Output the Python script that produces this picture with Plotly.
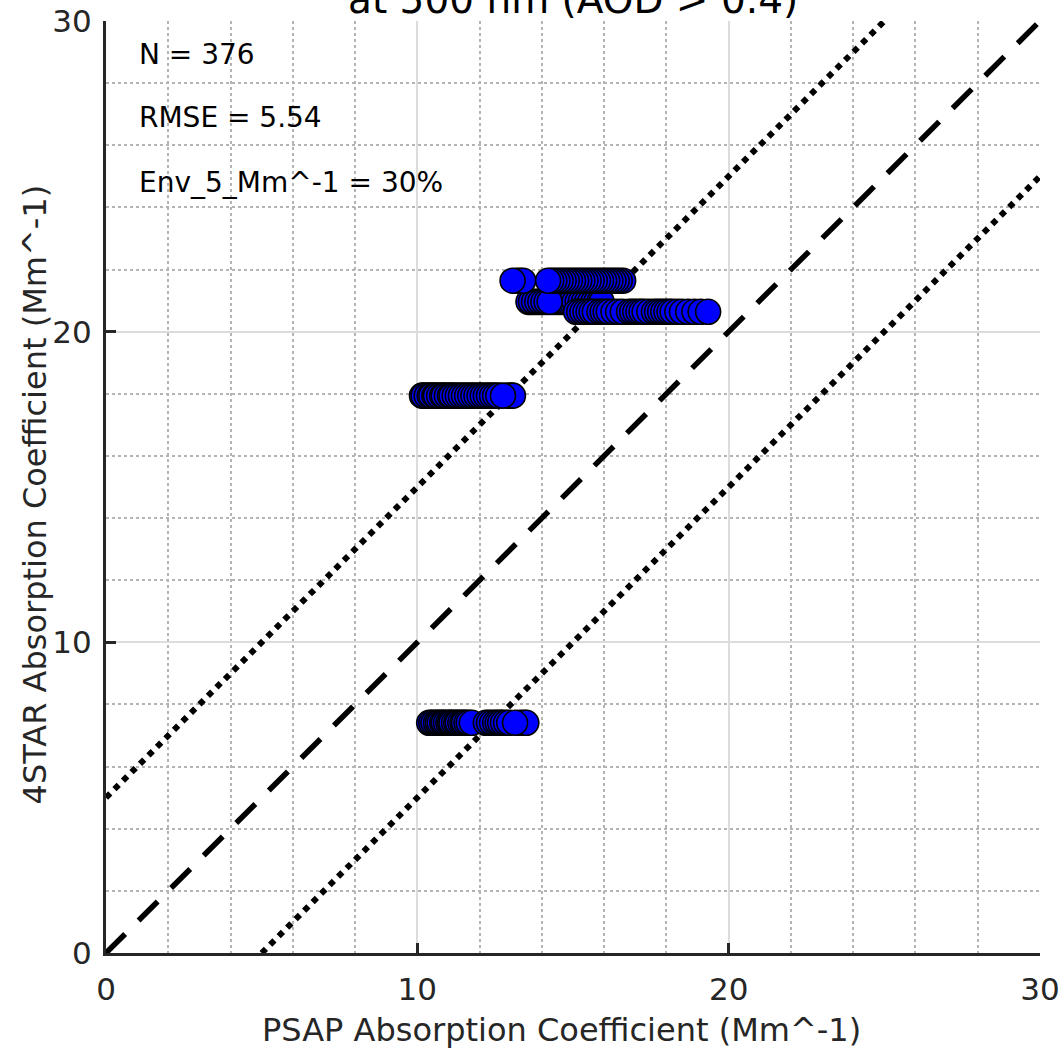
import plotly.graph_objects as go

# 4STAR retrieved absorption at each PSAP sample, grouped by 4STAR level
# (each group listed in plotting order)
star_lo = 7.41
psap_lo = [10.38, 10.45, 10.52, 10.60, 10.66, 10.72, 10.80, 10.85, 10.92, 11.00,
           11.05, 11.10, 11.18, 11.25, 11.30, 11.38, 11.45, 11.50, 11.58, 11.65,
           11.75, 12.20, 12.30, 12.40, 12.50, 12.58, 12.66, 12.75, 12.85, 12.95,
           13.30, 13.42, 13.50, 13.14]

star_mid = 17.94
psap_mid = [10.15, 10.20, 10.30, 10.40, 10.45, 10.55, 10.60, 10.70, 10.80, 10.85,
            10.95, 11.05, 11.10, 11.20, 11.30, 11.40, 11.50, 11.60, 11.70, 11.80,
            11.90, 12.00, 12.10, 12.20, 12.30, 12.40, 12.50, 12.60, 12.90, 13.00,
            13.07, 12.75]

star_b = 20.96
psap_b = [13.57, 13.65, 13.75, 13.85, 13.95, 14.05, 14.15, 14.35, 14.45, 14.55,
          14.65, 14.75, 14.85, 14.95, 15.05, 15.15, 15.25, 15.35, 15.45, 15.55,
          15.65, 15.75, 15.85, 15.92, 14.25]

star_a = 21.64
psap_a = [13.20, 13.30, 13.40, 13.06,
          16.61, 16.50, 16.40, 16.30, 16.20, 16.10, 16.00, 15.90, 15.80, 15.70,
          15.60, 15.50, 15.40, 15.30, 15.20, 15.10, 15.00, 14.90, 14.80, 14.70,
          14.60, 14.50, 14.40, 14.30, 14.20]

star_c = 20.64
psap_c = [15.10, 15.20, 15.30, 15.40, 15.50, 15.60, 15.70, 15.85, 15.95, 16.05,
          16.15, 16.30, 16.45, 16.60, 16.80, 16.90, 17.00, 17.10, 17.20, 17.30,
          17.45, 17.60, 17.70, 17.80, 17.90, 18.00, 18.10, 18.20, 18.35, 18.50,
          18.70, 18.90, 19.10, 19.34]

groups = [(psap_lo, star_lo), (psap_mid, star_mid), (psap_b, star_b),
          (psap_a, star_a), (psap_c, star_c)]

psap_all = [x for xs, _ in groups for x in xs]
star_all = [y for xs, y in groups for _ in xs]

# reference lines: 1:1 and +/- 5 Mm^-1 envelope
one_to_one = [0, 30]
env_offset = 5

stats_text = ["N = 376", "RMSE = 5.54", "Env_5_Mm^-1 = 30%"]
stats_y = [28.93, 26.9, 24.8]

axis_ticks = [0, 10, 20, 30]
axis_range = [0, 30]

FONT = "DejaVu Sans"
INK = "#262626"

fig = go.Figure()

fig.add_trace(go.Scatter(
    x=one_to_one, y=one_to_one, mode="lines",
    line=dict(color="black", width=5.5, dash="27px,19px"),
    hoverinfo="skip"))
fig.add_trace(go.Scatter(
    x=[one_to_one[0], one_to_one[1] - env_offset],
    y=[one_to_one[0] + env_offset, one_to_one[1]], mode="lines",
    line=dict(color="black", width=6, dash="6px,6px"),
    hoverinfo="skip"))
fig.add_trace(go.Scatter(
    x=[one_to_one[0] + env_offset, one_to_one[1]],
    y=[one_to_one[0], one_to_one[1] - env_offset], mode="lines",
    line=dict(color="black", width=6, dash="6px,6px"),
    hoverinfo="skip"))

fig.add_trace(go.Scatter(
    x=psap_all, y=star_all, mode="markers",
    marker=dict(size=25, color="#0000ff",
                line=dict(color="#000000", width=1.6)),
    cliponaxis=False))

for txt, yv in zip(stats_text, stats_y):
    fig.add_annotation(x=1.0, y=yv, xref="x", yref="y", text=txt,
                       showarrow=False, xanchor="left", yanchor="middle",
                       font=dict(family=FONT, size=28, color="black"))

# title (second line, sitting right above the axes)
fig.add_annotation(x=0.5, y=1, xref="paper", yref="paper",
                   text="at 500 nm (AOD > 0.4)", showarrow=False,
                   xanchor="center", yanchor="bottom", yshift=-3,
                   font=dict(family=FONT, size=39, color="black"))

# axis titles
fig.add_annotation(x=0.488, y=-0.0826, xref="paper", yref="paper",
                   text="PSAP Absorption Coefficient (Mm^-1)", showarrow=False,
                   xanchor="center", yanchor="middle",
                   font=dict(family=FONT, size=32, color=INK))
fig.add_annotation(x=-0.076, y=0.492, xref="paper", yref="paper",
                   text="4STAR Absorption Coefficient (Mm^-1)", showarrow=False,
                   xanchor="center", yanchor="middle", textangle=-90,
                   font=dict(family=FONT, size=32, color=INK))

axis_common = dict(
    range=axis_range, tickmode="array", tickvals=axis_ticks,
    ticks="inside", ticklen=10, tickwidth=3, tickcolor=INK,
    showline=True, linewidth=3, linecolor=INK,
    showgrid=True, gridcolor="#dcdcdc", gridwidth=2,
    zeroline=False, automargin=False,
    tickfont=dict(family=FONT, size=31, color=INK),
    minor=dict(tick0=0, dtick=2, showgrid=True, gridcolor="#b4b4b4",
               gridwidth=2, griddash="dot", ticks=""),
)

fig.update_layout(
    width=1063, height=1057,
    margin=dict(l=106, r=23, t=21, b=104, autoexpand=False),
    paper_bgcolor="white", plot_bgcolor="white",
    showlegend=False,
    xaxis=dict(axis_common, ticklabelstandoff=7),
    yaxis=dict(axis_common, ticklabelstandoff=5),
)

fig.write_html("out.html")
